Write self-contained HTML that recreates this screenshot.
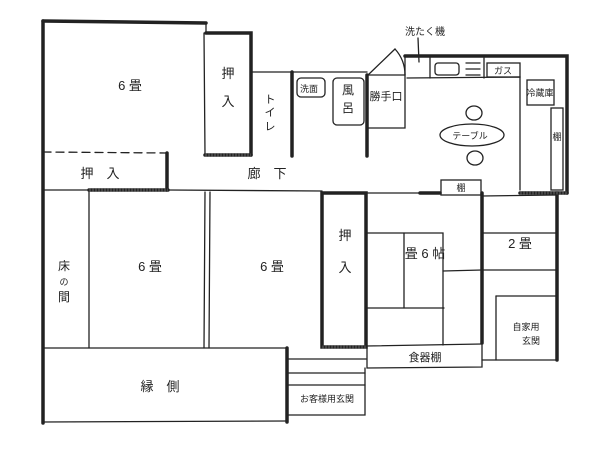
<!DOCTYPE html>
<html><head><meta charset="utf-8"><style>
html,body{margin:0;padding:0;background:#fff;width:600px;height:450px;overflow:hidden}
svg{display:block}
text{font-family:"Liberation Sans","Noto Sans CJK JP",sans-serif;fill:#222}
</style></head><body>
<svg width="600" height="450" viewBox="0 0 600 450" xmlns="http://www.w3.org/2000/svg">
<g stroke="#222" fill="none" stroke-width="1.3" stroke-linecap="round">
<g stroke-width="3.5">
<path d="M43 21 L43 423"/>
<path d="M43 21 L206 23"/>
<path d="M206 33 L251 33 L251 155"/>
<path d="M205 155 L251 155"/>
<path d="M292 72 L292 156"/>
<path d="M367 75 L367 156"/>
<path d="M167 153 L167 190"/>
<path d="M89 190 L168 190"/>
<path d="M405 56 L567 56 L567 193"/>
<path d="M520 193 L567 193"/>
<path d="M322 193 L366 193 L366 347 L322 347 Z"/>
<path d="M482 193 L482 343"/>
<path d="M557 193 L557 360"/>
<path d="M287 348 L287 422"/>
<path d="M420 193 L440 193"/>
</g>
<path d="M206 23 L206 33"/>
<path d="M204 33 L205 155"/>
<path d="M251 72 L367 72"/>
<path d="M43 152 L167 153" stroke-dasharray="8 5"/>
<path d="M43 190 L89 190"/>
<path d="M168 190 L322 191"/>
<path d="M43 348 L287 348"/>
<path d="M43 422 L287 421"/>
<path d="M89 190 L89 348"/>
<path d="M205 192 L204 348"/>
<path d="M210 192 L209 348"/>
<path d="M366 193 L420 193"/>
<path d="M482 196 L557 195"/>
<path d="M366 233 L443 233 L443 345"/>
<path d="M404 233 L404 308"/>
<path d="M366 308 L444 308"/>
<path d="M443 271 L482 270"/>
<path d="M482 233 L557 233"/>
<path d="M482 270 L557 270"/>
<path d="M496 296 L557 296"/>
<path d="M496 296 L496 360"/>
<path d="M482 360 L557 360"/>
<path d="M366 346 L482 344"/>
<path d="M367 346 L367 368 L482 367 L482 345"/>
<path d="M287 359 L366 359"/>
<path d="M287 373 L365 373"/>
<path d="M287 385 L365 385"/>
<path d="M365 368 L365 415 L287 415"/>
<path d="M367 75 L405 75"/>
<path d="M367 128 L405 128 L405 56"/>
<path d="M368 75 L395 49"/>
<path d="M395 49 Q405 60 405 75"/>
<path d="M407 78 L520 77 L520 190"/>
<path d="M418 38 L419 62"/>
<path d="M430 57 L430 78"/>
<rect x="435" y="63" width="24" height="12" rx="3"/>
<path d="M466 63 L480 63 M466 69 L480 69 M466 75 L480 75"/>
<path d="M484 58 L484 78"/>
<rect x="487" y="63" width="33" height="14"/>
<rect x="527" y="80" width="27" height="25"/>
<rect x="551" y="108" width="12" height="82"/>
<rect x="441" y="180" width="40" height="15"/>
<ellipse cx="472" cy="135" rx="32" ry="11"/>
<ellipse cx="474" cy="113" rx="8" ry="7"/>
<ellipse cx="475" cy="158" rx="8" ry="7"/>
<rect x="297" y="78" width="28" height="19" rx="4"/>
<rect x="333" y="78" width="31" height="47" rx="4"/>
</g>
<g stroke="#444" stroke-width="3" stroke-dasharray="2 1">
<path d="M205 155 L251 155"/><path d="M89 190 L168 190"/><path d="M520 193 L567 193"/><path d="M322 347 L366 347"/>
</g>
<g font-size="13" text-anchor="middle">
<text x="130" y="90">6 畳</text>
<text x="228" y="78">押</text><text x="228" y="106">入</text>
<text x="270" y="103" font-size="11">ト</text><text x="270" y="116" font-size="11">イ</text><text x="270" y="130" font-size="11">レ</text>
<text x="309" y="92" font-size="9">洗面</text>
<text x="348" y="94" font-size="12">風</text><text x="348" y="112" font-size="12">呂</text>
<text x="386" y="100" font-size="11">勝手口</text>
<text x="425" y="35" font-size="10">洗たく機</text>
<text x="503" y="74" font-size="9">ガス</text>
<text x="540" y="96" font-size="9">冷蔵庫</text>
<text x="557" y="140" font-size="9">棚</text>
<text x="470" y="139" font-size="9">テーブル</text>
<text x="461" y="191" font-size="9">棚</text>
<text x="100" y="178">押　入</text>
<text x="267" y="178">廊　下</text>
<text x="64" y="270" font-size="12">床</text><text x="64" y="285" font-size="9">の</text><text x="64" y="301" font-size="12">間</text>
<text x="150" y="271">6 畳</text>
<text x="272" y="271">6 畳</text>
<text x="345" y="240">押</text><text x="345" y="272">入</text>
<text x="425" y="258">畳 6 帖</text>
<text x="520" y="248">2 畳</text>
<text x="526" y="330" font-size="9">自家用</text><text x="531" y="344" font-size="9">玄関</text>
<text x="425" y="361" font-size="11">食器棚</text>
<text x="160" y="391">縁　側</text>
<text x="327" y="402" font-size="9">お客様用玄関</text>
</g>
</svg>
</body></html>
